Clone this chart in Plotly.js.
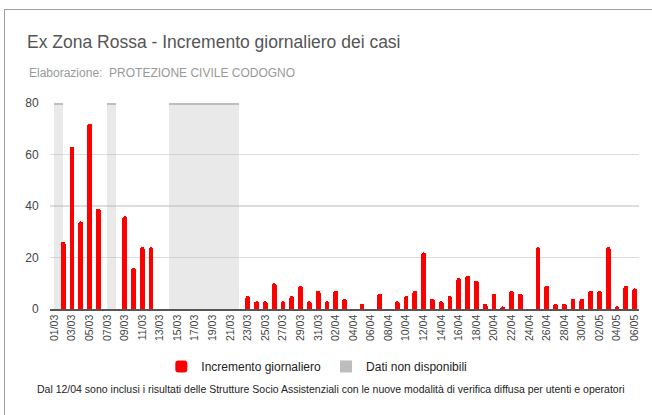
<!DOCTYPE html>
<html>
<head>
<meta charset="utf-8">
<script src="https://cdn.plot.ly/plotly-3.0.1.min.js"></script>
<style>
  html, body { margin: 0; padding: 0; background: #ffffff; overflow: hidden; }
  #frame { position: absolute; left: 4px; top: 9px; width: 700px; height: 500px;
           border-left: 1px solid #a0a0a0; border-top: 1px solid #a0a0a0; }
  #chart { position: absolute; left: 0; top: 0; width: 652px; height: 415px; }
</style>
</head>
<body>
<div id="frame"></div>
<div id="chart"></div>
<script>
const dates = [
  "01/03","02/03","03/03","04/03","05/03","06/03","07/03","08/03","09/03","10/03",
  "11/03","12/03","13/03","14/03","15/03","16/03","17/03","18/03","19/03","20/03",
  "21/03","22/03","23/03","24/03","25/03","26/03","27/03","28/03","29/03","30/03",
  "31/03","01/04","02/04","03/04","04/04","05/04","06/04","07/04","08/04","09/04",
  "10/04","11/04","12/04","13/04","14/04","15/04","16/04","17/04","18/04","19/04",
  "20/04","21/04","22/04","23/04","24/04","25/04","26/04","27/04","28/04","29/04",
  "30/04","01/05","02/05","03/05","04/05","05/05","06/05"
];
const increments = [
  null,26,63,34,72,39,null,null,36,16,
  24,24,null,null,null,null,null,null,null,null,
  null,null,5,3,3,10,3,5,9,3,
  7,3,7,4,null,2,null,6,null,3,
  5,7,22,4,3,5,12,13,11,2,
  6,1,7,6,null,24,9,2,2,4,
  4,7,7,24,1,9,8
];
const notAvailable = [
  80,null,null,null,null,null,80,null,null,null,
  null,null,null,80,80,80,80,80,80,80,
  80,null,null,null,null,null,null,null,null,null,
  null,null,null,null,null,null,null,null,null,null,
  null,null,null,null,null,null,null,null,null,null,
  null,null,null,null,null,null,null,null,null,null,
  null,null,null,null,null,null,null
];
const tickLabels = dates.filter((d, i) => i % 2 === 0);
const yTicks = [0, 20, 40, 60, 80];

const titleText = "Ex Zona Rossa - Incremento giornaliero dei casi";
const subtitleText = "Elaborazione:&nbsp; PROTEZIONE CIVILE CODOGNO";
const noteText = "Dal 12/04 sono inclusi i risultati delle Strutture Socio Assistenziali con le nuove modalità di verifica diffusa per utenti e operatori";

const font = "Liberation Sans, Arial, sans-serif";

const traces = [
  {
    type: "bar", x: dates, y: notAvailable, name: "Dati non disponibili",
    offset: 0, width: 1, showlegend: false, hoverinfo: "skip",
    marker: { color: "rgba(183,183,183,0.3)", line: { width: 0 } }
  },
  {
    type: "bar", x: dates, y: notAvailable.map(v => v === null ? null : 0.7),
    base: notAvailable.map(v => v === null ? null : v - 0.7),
    name: "Dati non disponibili", offset: 0, width: 1, legendrank: 2,
    marker: { color: "#bdbdbd", line: { width: 0 } }
  },
  {
    type: "bar", x: dates, y: increments, name: "Incremento giornaliero",
    offset: -0.27, width: 0.54, legendrank: 1,
    marker: { color: "#ff0000", line: { width: 0 }, cornerradius: 2 }
  }
];

const layout = {
  width: 652, height: 415,
  margin: { l: 50, r: 13, t: 103, b: 106, pad: 0 },
  paper_bgcolor: "rgba(0,0,0,0)", plot_bgcolor: "rgba(0,0,0,0)",
  barmode: "overlay", bargap: 0,
  font: { family: font, color: "#444" },
  title: {
    text: titleText, xref: "container", yref: "container",
    x: 27 / 652, xanchor: "left", y: 1 - 42 / 415, yanchor: "middle",
    font: { family: font, size: 17.5, color: "#555555" }
  },
  xaxis: {
    type: "category", range: [-0.5, dates.length - 0.5],
    tickmode: "array", tickvals: tickLabels, ticktext: tickLabels,
    tickangle: -90, tickfont: { family: font, size: 10.5, color: "#444" },
    showgrid: false, showline: true, linecolor: "#555", linewidth: 1.5,
    ticks: "", zeroline: false, fixedrange: true
  },
  yaxis: {
    range: [0, 80], tickmode: "array", tickvals: yTicks,
    tickfont: { family: font, size: 12, color: "#444" },
    showgrid: true, gridcolor: "#dddddd", gridwidth: 1.5,
    zeroline: false, showline: false, ticks: "outside", ticklen: 8, tickcolor: "rgba(0,0,0,0)",
    fixedrange: true
  },
  showlegend: true,
  legend: {
    orientation: "h", x: 0.453, xanchor: "center", y: -0.279, yanchor: "middle",
    font: { family: font, size: 12, color: "#222" }, bgcolor: "rgba(0,0,0,0)"
  },
  annotations: [
    {
      text: subtitleText, xref: "paper", yref: "paper", x: -23 / 589, xanchor: "left",
      y: (309.3 - 73) / 206.6, yanchor: "middle", showarrow: false,
      font: { family: font, size: 12, color: "#999999" }
    },
    {
      text: noteText, xref: "paper", yref: "paper", x: 0.477, xanchor: "center",
      y: -(390 - 309.3) / 206.6, yanchor: "middle", showarrow: false,
      font: { family: font, size: 10.5, color: "#222" }
    }
  ]
};

Plotly.newPlot("chart", traces, layout, { displayModeBar: false, staticPlot: true });
</script>
</body>
</html>
